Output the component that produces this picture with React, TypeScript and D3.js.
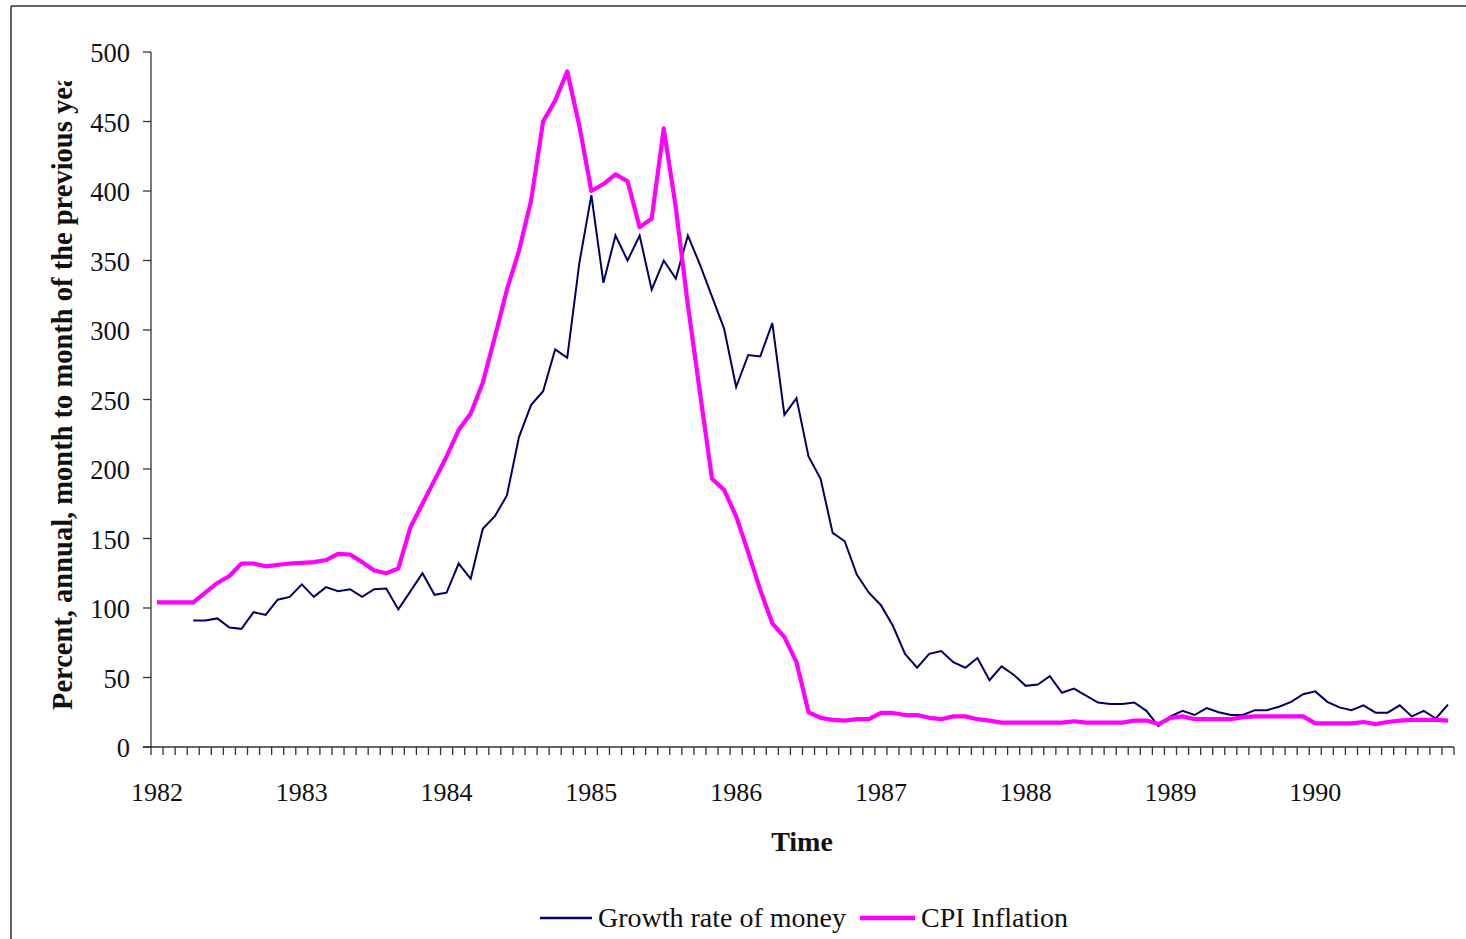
import React from "react";
import * as d3 from "d3";

const years = [1982, 1983, 1984, 1985, 1986, 1987, 1988, 1989, 1990];
const monthsPerYear = 12;
const yTicks = [0, 50, 100, 150, 200, 250, 300, 350, 400, 450, 500];

// Growth rate of money (starts April 1982)
const moneyGrowth: (number | null)[] = [
  null, null, null, 91, 91, 92.5, 86, 85, 97, 95, 106, 108,
  117, 108, 115, 112, 113.5, 108, 113.5, 114, 99, 112, 125, 109.5,
  111, 132, 121, 157, 166, 181, 223, 246, 256, 286, 280, 348,
  397, 334, 368, 350, 368, 329, 350, 337, 368, 347, 324, 301,
  259, 282, 281, 305, 239, 251, 209, 193, 154, 148, 124, 111,
  102, 87, 67, 57, 67, 69, 61, 57, 64, 48, 58, 52,
  44, 45, 51, 39, 42, 37, 32, 31, 31, 32, 26, 15,
  22, 26, 23, 28, 25, 23, 23, 26.5, 26.5, 29, 32.5, 38,
  40, 32.5, 28.5, 26.5, 30, 24.7, 24.7, 30, 22, 26, 20.5, 30.5,
];

// CPI inflation
const cpiInflation: (number | null)[] = [
  104, 104, 104, 104, 111, 118, 123, 132, 132, 130, 131, 132,
  132.5, 133, 134.5, 139, 138.5, 133, 127, 125, 128.5, 158, 175, 192,
  209, 228, 240, 262, 295, 329, 357, 393, 450, 465, 486, 447,
  400, 405, 412, 407, 374, 380, 445, 388, 318, 255, 193, 185,
  166, 140, 113, 89, 79, 61, 25, 21, 19.5, 19, 20, 20,
  24.5, 24.5, 23, 23, 21, 20, 22, 22, 20, 19, 17.5, 17.5,
  17.5, 17.5, 17.5, 17.5, 18.5, 17.5, 17.5, 17.5, 17.5, 19, 19, 16.5,
  21, 22, 20, 20, 20, 20, 21.5, 22, 22, 22, 22, 22,
  17, 17, 17, 17, 18, 16.5, 18, 19, 19.5, 19.5, 19.5, 19,
];

const seriesNames = ["Growth rate of money", "CPI Inflation"];

const W = 1466;
const H = 939;
const plot = { left: 151, right: 1454, top: 52, bottom: 747 };
const NAVY = "#000066";
const MAGENTA = "#ff00ff";
const AXIS = "#333333";
const FONT = "'Liberation Serif', 'Times New Roman', serif";

export default function App() {
  const months = d3.range(years.length * monthsPerYear);
  const x = d3.scaleBand<number>().domain(months).range([plot.left, plot.right]).padding(0);
  const bw = x.bandwidth();
  const cx = (i: number) => (x(i) as number) + bw / 2;
  const y = d3.scaleLinear().domain([0, 500]).range([plot.bottom, plot.top]);

  const line = d3
    .line<number | null>()
    .defined((d) => d != null)
    .x((_, i) => cx(i))
    .y((d) => y(d as number));

  const tickXs = [...months.map((i) => x(i) as number), plot.right];

  return (
    <svg
      width={W}
      height={H}
      style={{ position: "absolute", left: 0, top: 0, display: "block", background: "#fff" }}
      fontFamily={FONT}
    >
      <defs>
        <clipPath id="ylabclip">
          <rect x={0} y={81} width={150} height={H} />
        </clipPath>
      </defs>
      {/* frame */}
      <line x1={11} y1={6} x2={W} y2={6} stroke={AXIS} strokeWidth={1.5} />
      <line x1={11} y1={6} x2={11} y2={H} stroke={AXIS} strokeWidth={1.5} />

      {/* y axis */}
      <line x1={plot.left} y1={plot.top} x2={plot.left} y2={plot.bottom} stroke={AXIS} strokeWidth={1.3} />
      {yTicks.map((t) => (
        <g key={t}>
          <line x1={plot.left - 8} x2={plot.left} y1={y(t)} y2={y(t)} stroke={AXIS} strokeWidth={1.3} />
          <text x={130} y={y(t) + 10} textAnchor="end" fontSize={26.5} fill="#111">
            {t}
          </text>
        </g>
      ))}

      {/* x axis */}
      <line x1={plot.left - 8} y1={plot.bottom} x2={plot.right} y2={plot.bottom} stroke={AXIS} strokeWidth={1.3} />
      {tickXs.map((tx, k) => (
        <line key={k} x1={tx} x2={tx} y1={plot.bottom} y2={plot.bottom + 8} stroke={AXIS} strokeWidth={1.3} />
      ))}
      {years.map((yr, k) => (
        <text key={yr} x={cx(k * monthsPerYear)} y={801} textAnchor="middle" fontSize={26} fill="#111">
          {yr}
        </text>
      ))}

      {/* titles */}
      <text x={802} y={851} textAnchor="middle" fontSize={28} fontWeight="bold" fill="#111">
        Time
      </text>
      <g clipPath="url(#ylabclip)">
        <text
          transform={`translate(72,710) rotate(-90)`}
          textAnchor="start"
          fontSize={28.5}
          fontWeight="bold"
          fill="#111"
        >
          Percent, annual, month to month of the previous year
        </text>
      </g>

      {/* lines */}
      <path d={line(moneyGrowth) || ""} fill="none" stroke={NAVY} strokeWidth={2} strokeLinejoin="miter" />
      <path d={line(cpiInflation) || ""} fill="none" stroke={MAGENTA} strokeWidth={4.2} strokeLinejoin="round" />

      {/* legend */}
      <line x1={540} x2={592} y1={918} y2={918} stroke={NAVY} strokeWidth={2.5} />
      <text x={598} y={927} fontSize={28} fill="#111">
        {seriesNames[0]}
      </text>
      <line x1={860} x2={915} y1={918} y2={918} stroke={MAGENTA} strokeWidth={4.5} />
      <text x={921} y={927} fontSize={28} fill="#111">
        {seriesNames[1]}
      </text>
    </svg>
  );
}
